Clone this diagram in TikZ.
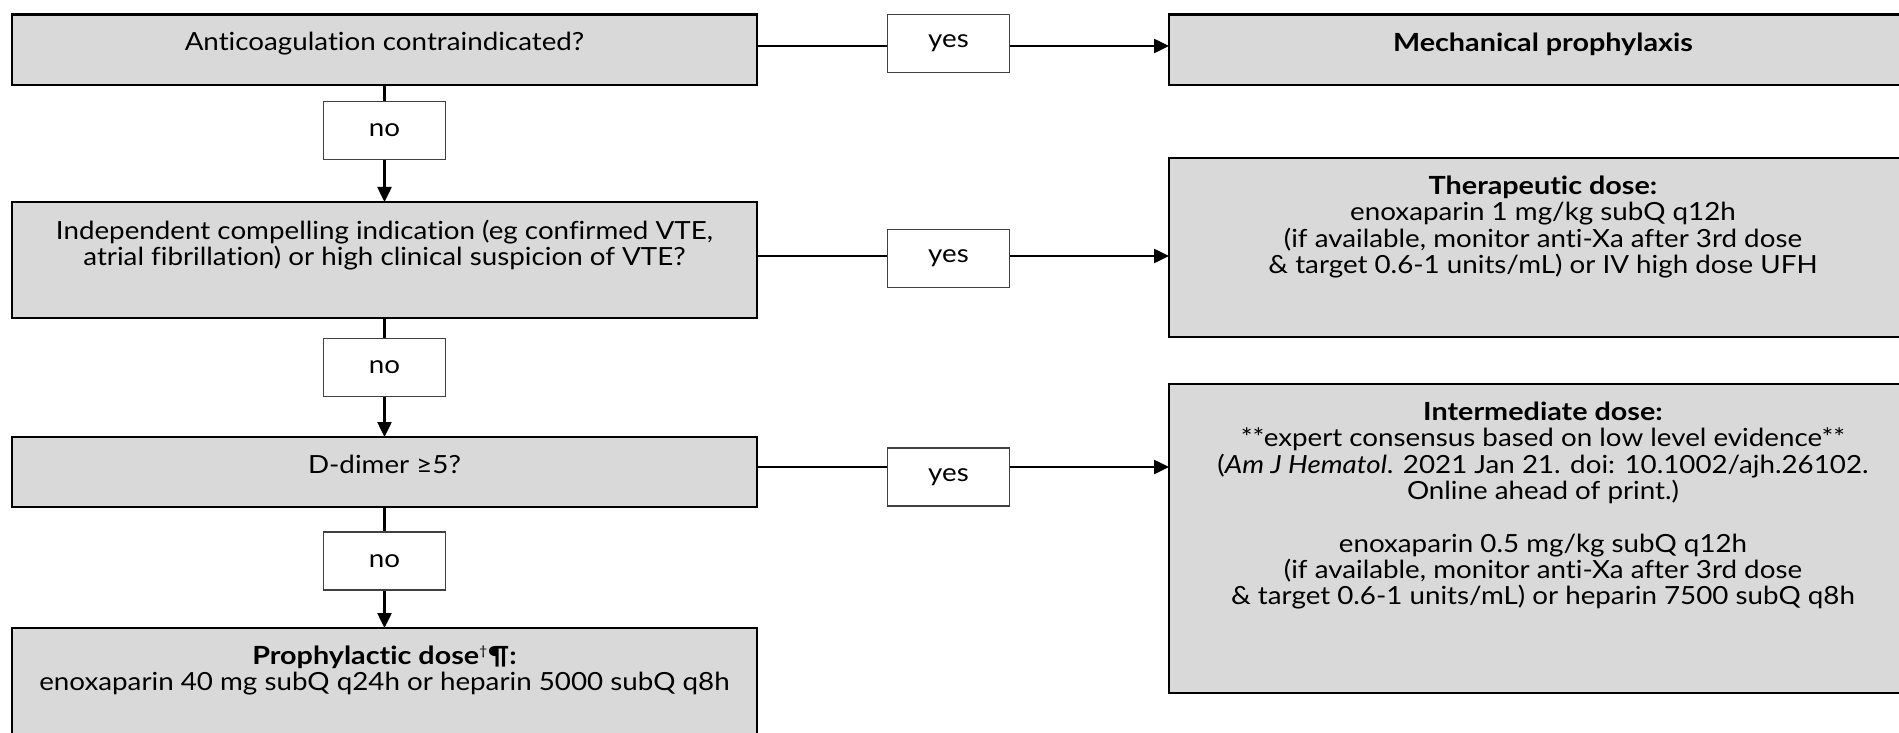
\documentclass[tikz,border=0pt]{standalone}
\usepackage{fontspec}
\setmainfont{Lato}[Ligatures=NoCommon, FakeStretch=1.11, BoldFeatures={FakeStretch=1.15}, ItalicFeatures={FakeStretch=1.11}]
\usetikzlibrary{arrows.meta}
\definecolor{boxgray}{HTML}{D9D9D9}
\definecolor{lblgray}{HTML}{404040}
\newcommand{\mainsize}{\fontsize{25pt}{26.3pt}\selectfont}
\newcommand{\boxtxt}[3]{\parbox[c][#2][t]{#1}{\centering\mainsize\vspace*{18pt}#3\par}}
\tikzset{
  box/.style={draw=black, line width=2.8pt, fill=boxgray, inner sep=0pt, outer sep=0pt, anchor=north west},
  lbl/.style={draw=lblgray, line width=1.2pt, fill=white, minimum width=122pt, minimum height=58pt, inner sep=0pt, font=\mainsize},
  conn/.style={line width=2.5pt, draw=black},
  arr/.style={conn, -{Triangle[length=15pt,width=14pt]}},
}
\begin{document}
\begin{tikzpicture}[x=1pt,y=-1pt]
\useasboundingbox (0,0) rectangle (1899,733);
\clip (0,0) rectangle (1899,733);
% left column
\node[box] (A) at (12,14.5) {\boxtxt{745pt}{70.5pt}{Anticoagulation contraindicated?}};
\node[box] (B) at (12,202) {\boxtxt{745pt}{116pt}{Independent compelling indication (eg confirmed VTE,\\ atrial fibrillation) or high clinical suspicion of VTE?}};
\node[box] (C) at (12,437) {\boxtxt{745pt}{70pt}{D-dimer ≥5?}};
\node[box] (D) at (12,628) {\boxtxt{745pt}{130pt}{\textbf{Prophylactic dose\textsuperscript{\normalfont\fontsize{13pt}{13pt}\selectfont †}¶:}\\ enoxaparin 40 mg subQ q24h or heparin 5000 subQ q8h}};
% right column
\node[box] (E) at (1169,14.5) {\boxtxt{748pt}{70.5pt}{\textbf{Mechanical prophylaxis}}};
\node[box] (F) at (1169,158) {\boxtxt{748pt}{179pt}{\textbf{Therapeutic dose:}\\ enoxaparin 1 mg/kg subQ q12h\\ (if available, monitor anti-Xa after 3rd dose\\ \& target 0.6-1 units/mL) or IV high dose UFH}};
\node[box] (G) at (1169,384) {\boxtxt{748pt}{309pt}{\textbf{Intermediate dose:}\\ {**}expert consensus based on low level evidence{**}\\ (\textit{Am J Hematol}. 2021 Jan 21. doi: 10.1002/ajh.26102.\\ Online ahead of print.)\\[26.3pt] enoxaparin 0.5 mg/kg subQ q12h\\ (if available, monitor anti-Xa after 3rd dose\\ \& target 0.6-1 units/mL) or heparin 7500 subQ q8h}};
% labels
\node[lbl] (N1) at (384.5,130.5) {no};
\node[lbl] (N2) at (384.5,367.5) {no};
\node[lbl] (N3) at (384.5,561) {no};
\node[lbl] (Y1) at (948.5,43.5) {yes};
\node[lbl] (Y2) at (948.5,258.5) {yes};
\node[lbl] (Y3) at (948.5,477) {yes};
% connector rows
\coordinate (r1) at (0,46);
\coordinate (r2) at (0,256);
\coordinate (r3) at (0,467);
% vertical connectors
\draw[conn] (A.south) -- (N1.north);
\draw[arr] (N1.south) -- (B.north);
\draw[conn] (B.south) -- (N2.north);
\draw[arr] (N2.south) -- (C.north);
\draw[conn] (C.south) -- (N3.north);
\draw[arr] (N3.south) -- (D.north);
% horizontal connectors
\draw[conn] (A.east |- r1) -- (Y1.west |- r1);
\draw[arr] (Y1.east |- r1) -- (E.west |- r1);
\draw[conn] (B.east |- r2) -- (Y2.west |- r2);
\draw[arr] (Y2.east |- r2) -- (F.west |- r2);
\draw[conn] (C.east |- r3) -- (Y3.west |- r3);
\draw[arr] (Y3.east |- r3) -- (G.west |- r3);
\end{tikzpicture}
\end{document}
